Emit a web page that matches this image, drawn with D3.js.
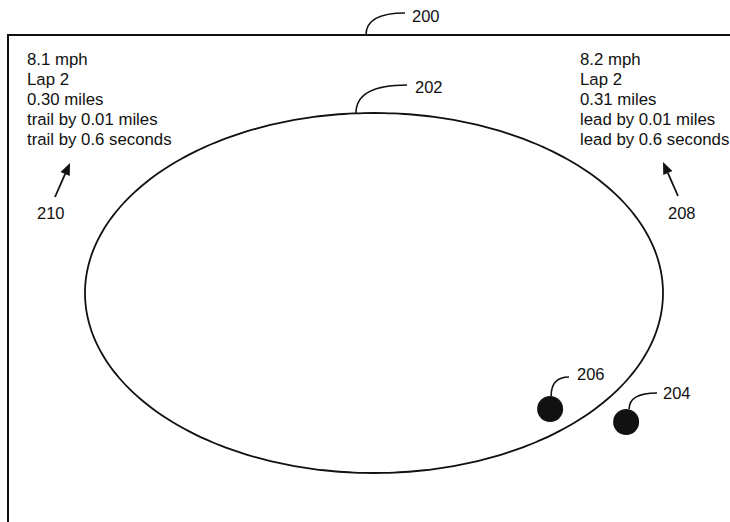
<!DOCTYPE html>
<html>
<head>
<meta charset="utf-8">
<script src="https://cdn.jsdelivr.net/npm/d3@7/dist/d3.min.js"></script>
<style>
  html, body { margin: 0; padding: 0; background: #fff; }
  svg { display: block; }
  text { font-family: "Liberation Sans", Arial, sans-serif; fill: #111; }
</style>
</head>
<body>
<svg id="chart" width="730" height="522"></svg>
<script>
// ---- data ----
const trailerStats = ["8.1 mph", "Lap 2", "0.30 miles", "trail by 0.01 miles", "trail by 0.6 seconds"];
const leaderStats  = ["8.2 mph", "Lap 2", "0.31 miles", "lead by 0.01 miles", "lead by 0.6 seconds"];
// runners on the track: angle (deg, clockwise from 3 o'clock), radial position (1 = on the track line)
const runnerIds     = ["206", "204"];
const runnerAngles  = [46.6, 39.4];
const runnerRadials = [0.887, 1.129];
const refNumbers = ["200", "202", "210", "208"];

// ---- layout ----
const svg = d3.select("#chart");
const W = 730, H = 522;
const track = { cx: 374, cy: 293, rx: 289, ry: 180 };
const x = d3.scaleLinear().domain([-1, 1]).range([track.cx - track.rx, track.cx + track.rx]);
const y = d3.scaleLinear().domain([-1, 1]).range([track.cy - track.ry, track.cy + track.ry]);

const ink = "#111";

// frame (top + left)
svg.append("path")
  .attr("d", `M8,${H} L8,35 L${W},35`)
  .attr("fill", "none").attr("stroke", ink).attr("stroke-width", 2);

// track ellipse
const ellPts = d3.range(0, 360, 2).map(a => {
  const t = a * Math.PI / 180;
  return [x(Math.cos(t)), y(Math.sin(t))];
});
svg.append("path")
  .attr("d", d3.line().curve(d3.curveCardinalClosed)(ellPts))
  .attr("fill", "none").attr("stroke", ink).attr("stroke-width", 1.8);

// runners
const runners = runnerIds.map((id, i) => {
  const t = runnerAngles[i] * Math.PI / 180;
  return { id, px: x(runnerRadials[i] * Math.cos(t)), py: y(runnerRadials[i] * Math.sin(t)) };
});
svg.selectAll("circle.runner").data(runners).enter().append("circle")
  .attr("class", "runner")
  .attr("cx", d => d.px).attr("cy", d => d.py).attr("r", 13)
  .attr("fill", ink);

// leader lines (curved reference-number leaders)
function leader(x0, y0, x1, y1) {
  return `M${x0},${y0} C${x0},${y0 - (y0 - y1) * 0.7} ${x0 + (x1 - x0) * 0.35},${y1} ${x1},${y1}`;
}
const leaders = [
  { d: leader(366, 35, 405, 13), label: refNumbers[0], lx: 412, ly: 22 },
  { d: leader(356, 113, 407, 85), label: refNumbers[1], lx: 415, ly: 93 },
  { d: leader(runners[0].px + 1, runners[0].py - 13, 569, 377), label: runners[0].id, lx: 577, ly: 380 },
  { d: leader(runners[1].px + 3, runners[1].py - 13, 657, 393), label: runners[1].id, lx: 663, ly: 399 }
];
svg.selectAll("path.leader").data(leaders).enter().append("path")
  .attr("class", "leader").attr("d", d => d.d)
  .attr("fill", "none").attr("stroke", ink).attr("stroke-width", 1.6);
svg.selectAll("text.lead").data(leaders).enter().append("text")
  .attr("class", "lead").attr("x", d => d.lx).attr("y", d => d.ly)
  .attr("font-size", 16.5).text(d => d.label);

// stat blocks
function block(lines, x0) {
  svg.append("g").selectAll("text").data(lines).enter().append("text")
    .attr("x", x0).attr("y", (d, i) => 65 + i * 20)
    .attr("font-size", 16.8).text(d => d);
}
block(trailerStats, 27);
block(leaderStats, 580);

// arrows
function arrow(x0, y0, x1, y1, label, lx, ly) {
  const ang = Math.atan2(y1 - y0, x1 - x0);
  const len = 12, half = 5;
  const bx = x1 - len * Math.cos(ang), by = y1 - len * Math.sin(ang);
  svg.append("line").attr("x1", x0).attr("y1", y0).attr("x2", bx).attr("y2", by)
    .attr("stroke", ink).attr("stroke-width", 1.8);
  const p = [
    [x1, y1],
    [bx + half * Math.sin(ang), by - half * Math.cos(ang)],
    [bx - half * Math.sin(ang), by + half * Math.cos(ang)]
  ];
  svg.append("path").attr("d", "M" + p.join("L") + "Z").attr("fill", ink);
  svg.append("text").attr("x", lx).attr("y", ly).attr("font-size", 16.5).text(label);
}
arrow(55, 197, 70, 163, refNumbers[2], 37, 219);
arrow(678, 196, 663, 162, refNumbers[3], 668, 219);
</script>
</body>
</html>
